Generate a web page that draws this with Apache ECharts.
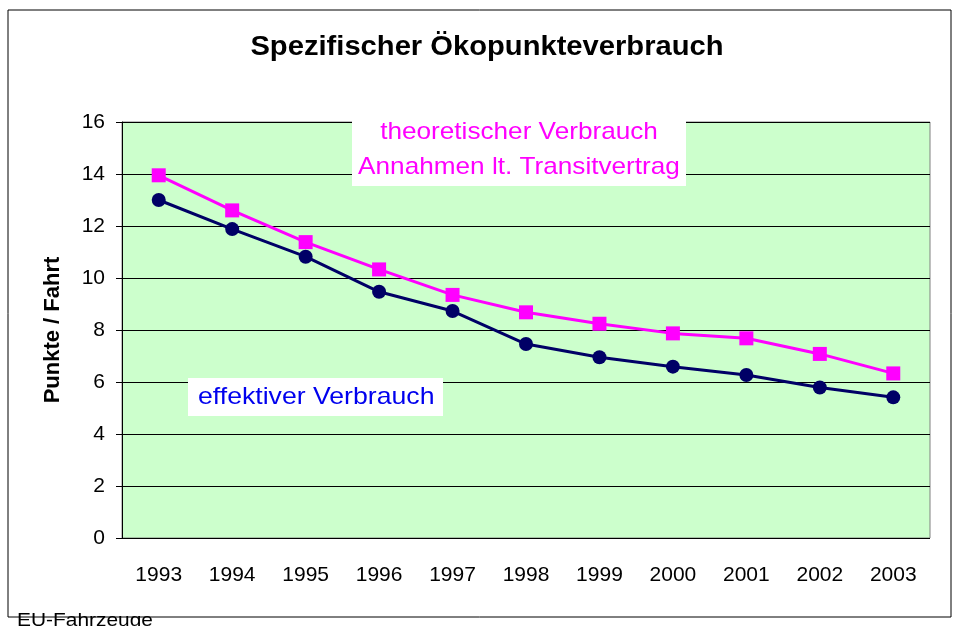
<!DOCTYPE html>
<html><head><meta charset="utf-8">
<script src="https://cdn.jsdelivr.net/npm/echarts@6/dist/echarts.min.js"></script>
<style>html,body{margin:0;padding:0;background:#fff}#c{width:954px;height:626px}</style>
</head><body><div id="c"></div>
<script>
const years = ['1993','1994','1995','1996','1997','1998','1999','2000','2001','2002','2003'];
const theoretisch = [13.95, 12.6, 11.38, 10.33, 9.35, 8.68, 8.24, 7.87, 7.68, 7.08, 6.33];
const effektiv = [13.0, 11.88, 10.82, 9.47, 8.73, 7.46, 6.95, 6.59, 6.27, 5.79, 5.41];
const yTicks = [0, 2, 4, 6, 8, 10, 12, 14, 16];

const chart = echarts.init(document.getElementById('c'), null, {renderer: 'canvas'});
const F = 'Liberation Sans, Arial, sans-serif';
function txt(t, x, y, font, fill, sx, align) {
  return {type: 'text', x: x, y: y, scaleX: sx, z: 11, silent: true,
    style: {text: t, x: 0, y: 0, align: align || 'center', verticalAlign: 'middle', font: font, fill: fill}};
}
chart.setOption({
  animation: false,
  backgroundColor: '#ffffff',
  grid: {left: 122, right: 24, top: 122, bottom: 88, show: true,
         backgroundColor: '#CCFFCC', borderColor: '#808080', borderWidth: 1},
  xAxis: {
    type: 'category', data: years, boundaryGap: true,
    axisLine: {show: false}, axisTick: {show: false},
    axisLabel: {fontFamily: F, fontSize: 21, color: '#000', margin: 27}
  },
  yAxis: {
    type: 'value', min: yTicks[0], max: yTicks[yTicks.length - 1], interval: 2,
    name: 'Punkte / Fahrt', nameLocation: 'middle', nameGap: 58,
    nameTextStyle: {fontFamily: F, fontSize: 22, fontWeight: 'bold', color: '#000'},
    axisLine: {show: true, lineStyle: {color: '#000', width: 1}},
    axisTick: {show: true, length: 6, lineStyle: {color: '#000'}},
    axisLabel: {fontFamily: F, fontSize: 21, color: '#000', margin: 17},
    splitLine: {show: true, lineStyle: {color: '#000', width: 1}}
  },
  series: [
    {name: 'theoretischer Verbrauch', type: 'line', data: theoretisch,
     symbol: 'rect', symbolSize: 14,
     lineStyle: {color: '#FF00FF', width: 3}, itemStyle: {color: '#FF00FF'}, z: 3},
    {name: 'effektiver Verbrauch', type: 'line', data: effektiv,
     symbol: 'circle', symbolSize: 14,
     lineStyle: {color: '#000066', width: 3}, itemStyle: {color: '#000066'}, z: 4}
  ],
  graphic: [
    {type: 'rect', shape: {x: 8, y: 10, width: 943, height: 607},
     style: {fill: 'none', stroke: '#000', lineWidth: 1}, z: -1, silent: true},
    txt('Spezifischer Ökopunkteverbrauch', 487, 48, 'bold 27px ' + F, '#000', 1.08),
    {type: 'rect', shape: {x: 352, y: 116, width: 334, height: 70},
     style: {fill: '#fff'}, z: 10, silent: true},
    txt('theoretischer Verbrauch', 519, 132, '24px ' + F, '#FF00FF', 1.09),
    txt('Annahmen lt. Transitvertrag', 519, 167, '24px ' + F, '#FF00FF', 1.09),
    {type: 'rect', shape: {x: 188, y: 378, width: 255, height: 38},
     style: {fill: '#fff'}, z: 10, silent: true},
    txt('effektiver Verbrauch', 198, 397, '24px ' + F, '#0000EE', 1.11, 'left'),
    txt('EU-Fahrzeuge', 17, 621, '19px ' + F, '#000', 1.1, 'left')
  ]
});
</script></body></html>
